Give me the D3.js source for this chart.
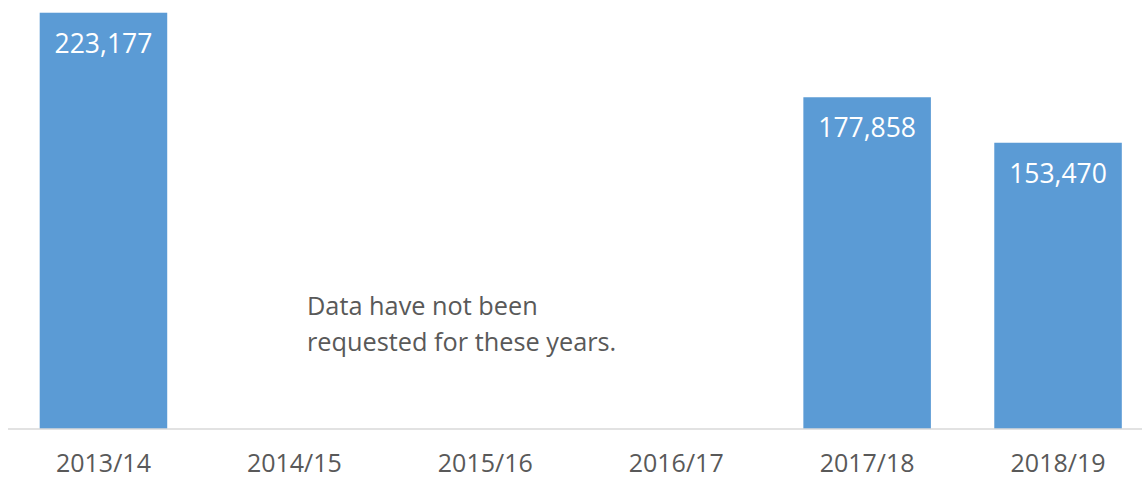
<!DOCTYPE html>
<html>
<head>
<meta charset="utf-8">
<script src="https://cdn.jsdelivr.net/npm/d3@7/dist/d3.min.js"></script>
<style>
  html, body { margin: 0; padding: 0; background: #ffffff; }
  svg { display: block; }
</style>
</head>
<body>
<script>
const categories = ["2013/14", "2014/15", "2015/16", "2016/17", "2017/18", "2018/19"];
const values = [223177, null, null, null, 177858, 153470];
const noteLines = ["Data have not been", "requested for these years."];

const W = 1142, H = 479;
const font = "'Open Sans', sans-serif";
const svg = d3.select("body").append("svg").attr("width", W).attr("height", H);

const x = d3.scaleBand().domain(categories).range([8, 1153.5]).paddingInner(0.332).paddingOuter(0.166);
const y = d3.scaleLinear().domain([0, 230000]).range([429, 0]);

const data = categories.map((c, i) => ({ c, v: values[i] })).filter(d => d.v != null);

svg.append("g").selectAll("rect").data(data).enter().append("rect")
  .attr("x", d => x(d.c))
  .attr("width", x.bandwidth())
  .attr("y", d => y(d.v))
  .attr("height", d => y(0) - y(d.v))
  .attr("fill", "#5B9BD5");

svg.append("g").selectAll("text").data(data).enter().append("text")
  .attr("x", d => x(d.c) + x.bandwidth() / 2)
  .attr("y", d => y(d.v) + 40)
  .attr("text-anchor", "middle")
  .attr("font-family", font)
  .attr("font-size", 26.5)
  .attr("fill", "#ffffff")
  .text(d => d3.format(",")(d.v));

// axis
const axis = d3.axisBottom(x).tickSize(0).tickPadding(0);
const gx = svg.append("g").attr("transform", `translate(0,${y(0)})`).call(axis);
gx.select(".domain").attr("stroke", "#d9d9d9").attr("stroke-width", 1.5).attr("d", `M8,0H${W}`);
gx.selectAll(".tick text")
  .attr("font-family", font)
  .attr("font-size", 25)
  .attr("fill", "#595959")
  .attr("dy", null)
  .attr("y", 42.5);

// annotation
svg.append("text")
  .attr("font-family", font)
  .attr("font-size", 25.3)
  .attr("fill", "#595959")
  .selectAll("tspan").data(noteLines).enter().append("tspan")
  .attr("x", 307)
  .attr("y", (d, i) => 315 + i * 36)
  .text(d => d);
</script>
</body>
</html>
